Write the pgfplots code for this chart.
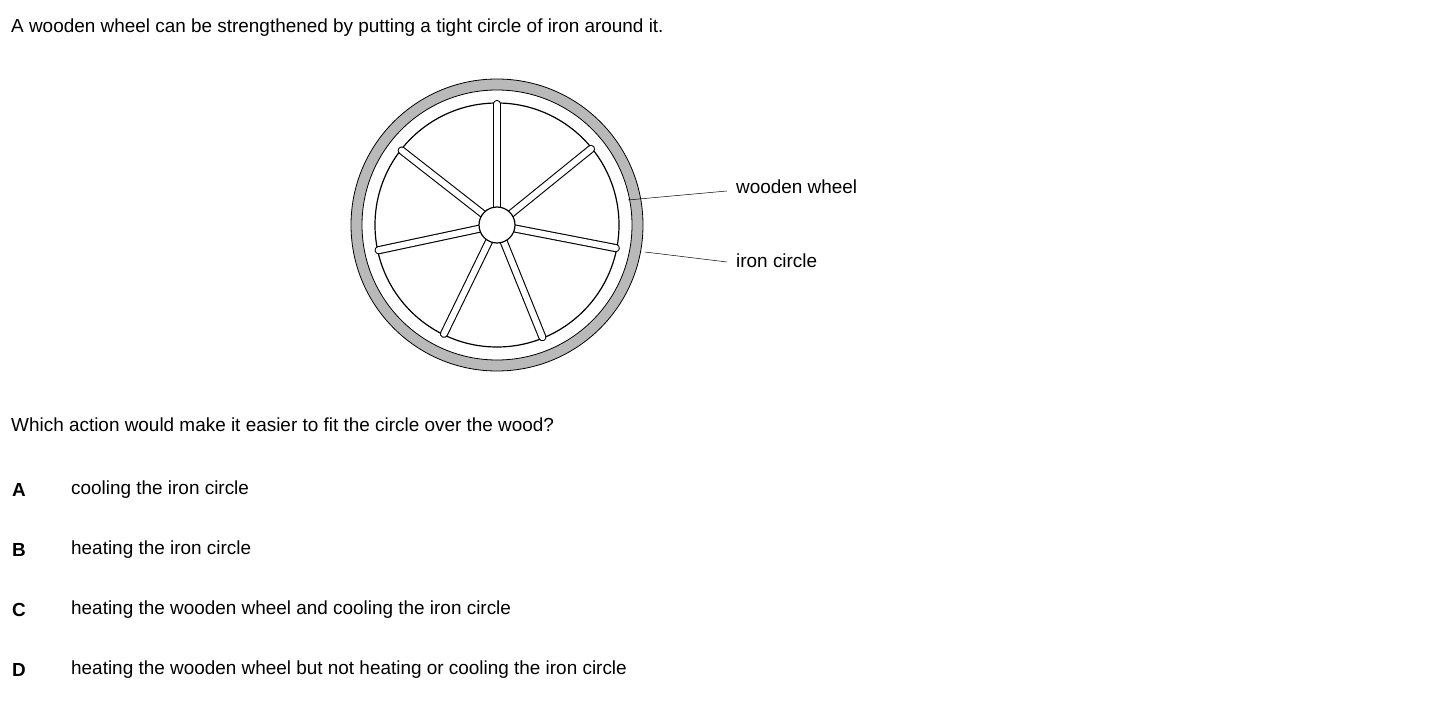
\documentclass[border=0pt]{standalone}
\usepackage{pgfplots}
\pgfplotsset{compat=1.18}
\usepackage{fontspec}
\setmainfont{Liberation Sans}
\newcommand{\qf}{\fontsize{19}{22}\selectfont}
\begin{document}
\begin{tikzpicture}
\tikzset{q/.style={anchor=west,font=\qf,inner sep=0pt},
  sp/.style={line width=1.1pt,double=white,double distance=6pt,line cap=round}}
\begin{axis}[width=1430bp,height=702bp,scale only axis,axis lines=none,
  xmin=0,xmax=1430,ymin=0,ymax=702,y dir=reverse,clip=false]
\addplot[draw=none] coordinates {(0,0) (1430,702)};
\fill[gray!55,even odd rule] (axis cs:497,225) circle[radius=146] (axis cs:497,225) circle[radius=135];
\draw[line width=0.8pt] (axis cs:497,225) circle[radius=146];
\draw[line width=0.8pt] (axis cs:497,225) circle[radius=135];
\draw[line width=1.2pt] (axis cs:497,225) circle[radius=122];
\draw[sp] (axis cs:497,210) -- (axis cs:497,104);
\draw[sp] (axis cs:508.7,215.6) -- (axis cs:591.0,148.9);
\draw[sp] (axis cs:485.2,215.8) -- (axis cs:401.7,150.5);
\draw[sp] (axis cs:482.3,228.1) -- (axis cs:378.6,250.2);
\draw[sp] (axis cs:511.7,227.9) -- (axis cs:615.8,248.1);
\draw[sp] (axis cs:490.4,238.5) -- (axis cs:444.0,333.8);
\draw[sp] (axis cs:502.6,238.9) -- (axis cs:542.4,337.2);
\filldraw[fill=white,line width=1.2pt] (axis cs:497,225) circle[radius=18];
\draw[line width=0.5pt] (axis cs:628,200) -- (axis cs:727,191);
\draw[line width=0.5pt] (axis cs:645,252) -- (axis cs:727,262);
\node[q] at (axis cs:736,187) {wooden wheel};
\node[q] at (axis cs:736,261) {iron circle};
\node[q] at (axis cs:11,28) {A wooden wheel can be strengthened by putting a tight circle of iron around it.};
\node[q] at (axis cs:11,425) {Which action would make it easier to fit the circle over the wood?};
\node[q] at (axis cs:12,490) {\textbf{A}};
\node[q] at (axis cs:12,550) {\textbf{B}};
\node[q] at (axis cs:12,610) {\textbf{C}};
\node[q] at (axis cs:12,670) {\textbf{D}};
\node[q] at (axis cs:71,490) {cooling the iron circle};
\node[q] at (axis cs:71,550) {heating the iron circle};
\node[q] at (axis cs:71,610) {heating the wooden wheel and cooling the iron circle};
\node[q] at (axis cs:71,670) {heating the wooden wheel but not heating or cooling the iron circle};
\end{axis}
\end{tikzpicture}
\end{document}
